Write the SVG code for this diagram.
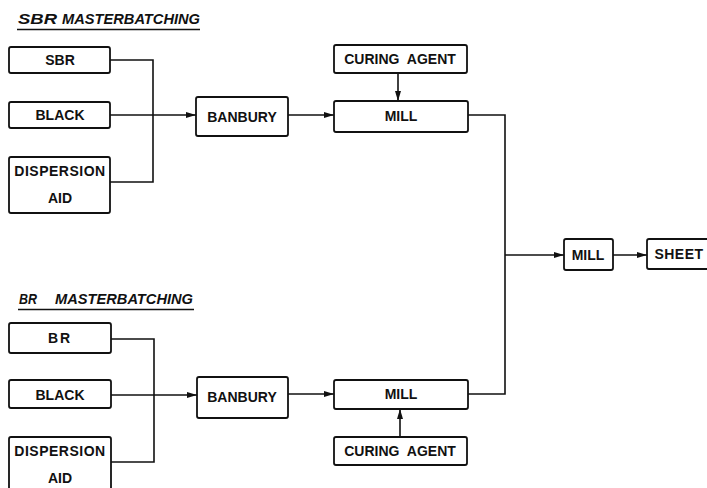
<svg xmlns="http://www.w3.org/2000/svg" width="707" height="488" viewBox="0 0 707 488">
<style>
.box{fill:#fff;stroke:#111;stroke-width:1.8}
.t{font-family:"Liberation Sans",Arial,sans-serif;font-weight:bold;font-size:14px;fill:#111;text-anchor:middle;dominant-baseline:central}
.ttl{font-family:"Liberation Sans",Arial,sans-serif;font-weight:bold;font-style:italic;font-size:14px;fill:#111}
.c{fill:none;stroke:#111;stroke-width:1.6}
.a{marker-end:url(#ah)}
</style>
<defs>
<marker id="ah" viewBox="0 0 10 10" refX="10" refY="5" markerWidth="10" markerHeight="10" markerUnits="userSpaceOnUse" orient="auto">
<path d="M0,2 L10,5 L0,8 z" fill="#111"/>
</marker>
</defs>
<g id="titles">
<text class="ttl" x="18" y="24" textLength="39" lengthAdjust="spacingAndGlyphs">SBR</text>
<text class="ttl" x="62" y="24" textLength="138" lengthAdjust="spacingAndGlyphs">MASTERBATCHING</text>
<line x1="17" y1="29.5" x2="200" y2="29.5" stroke="#111" stroke-width="1.5"/>
<text class="ttl" x="19" y="304" textLength="18" lengthAdjust="spacingAndGlyphs">BR</text>
<text class="ttl" x="55" y="304" textLength="138" lengthAdjust="spacingAndGlyphs">MASTERBATCHING</text>
<line x1="18" y1="309.5" x2="194" y2="309.5" stroke="#111" stroke-width="1.5"/>
</g>
<g id="connectors">
<polyline class="c" points="110,60 153,60 153,182 110,182"/>
<line class="c a" x1="110" y1="115" x2="196" y2="115"/>
<line class="c a" x1="288" y1="115" x2="334" y2="115"/>
<line class="c a" x1="398" y1="73" x2="398" y2="101"/>
<polyline class="c" points="468,115 505,115 505,394 468,394"/>
<line class="c a" x1="505" y1="255" x2="564" y2="255"/>
<line class="c a" x1="613" y1="255" x2="647" y2="255"/>
<polyline class="c" points="111,339 154,339 154,462 111,462"/>
<line class="c a" x1="111" y1="395" x2="197" y2="395"/>
<line class="c a" x1="288" y1="394" x2="334" y2="394"/>
<line class="c a" x1="400" y1="437" x2="400" y2="409"/>
</g>
<g id="sbr"><rect class="box" x="9" y="47" width="101" height="26" rx="2"/><text class="t" x="60" y="60">SBR</text></g>
<g id="black1"><rect class="box" x="9" y="102" width="101" height="26" rx="2"/><text class="t" x="60" y="115">BLACK</text></g>
<g id="disp1"><rect class="box" x="9" y="157" width="101" height="56" rx="2"/><text class="t" x="60" y="171" letter-spacing="0.5">DISPERSION</text><text class="t" x="60" y="198">AID</text></g>
<g id="banbury1"><rect class="box" x="196" y="97" width="92" height="39" rx="2"/><text class="t" x="242" y="117">BANBURY</text></g>
<g id="curing1"><rect class="box" x="334" y="45" width="133" height="28" rx="2"/><text class="t" x="400" y="59" word-spacing="4">CURING AGENT</text></g>
<g id="mill1"><rect class="box" x="334" y="101" width="134" height="31" rx="2"/><text class="t" x="401" y="116">MILL</text></g>
<g id="mill3"><rect class="box" x="564" y="239" width="49" height="31" rx="2"/><text class="t" x="588" y="255">MILL</text></g>
<g id="sheet"><rect class="box" x="647" y="239" width="70" height="30" rx="2"/><text class="t" x="679" y="254" letter-spacing="0.5">SHEET</text></g>
<g id="br"><rect class="box" x="9" y="323" width="102" height="30" rx="2"/><text class="t" x="60" y="338" letter-spacing="2">BR</text></g>
<g id="black2"><rect class="box" x="9" y="380" width="102" height="28" rx="2"/><text class="t" x="60" y="395">BLACK</text></g>
<g id="disp2"><rect class="box" x="9" y="437" width="102" height="60" rx="2"/><text class="t" x="60" y="451" letter-spacing="0.5">DISPERSION</text><text class="t" x="60" y="478">AID</text></g>
<g id="banbury2"><rect class="box" x="197" y="377" width="91" height="41" rx="2"/><text class="t" x="242" y="397">BANBURY</text></g>
<g id="mill2"><rect class="box" x="334" y="380" width="134" height="29" rx="2"/><text class="t" x="401" y="394">MILL</text></g>
<g id="curing2"><rect class="box" x="334" y="437" width="133" height="28" rx="2"/><text class="t" x="400" y="451" word-spacing="4">CURING AGENT</text></g>
</svg>
